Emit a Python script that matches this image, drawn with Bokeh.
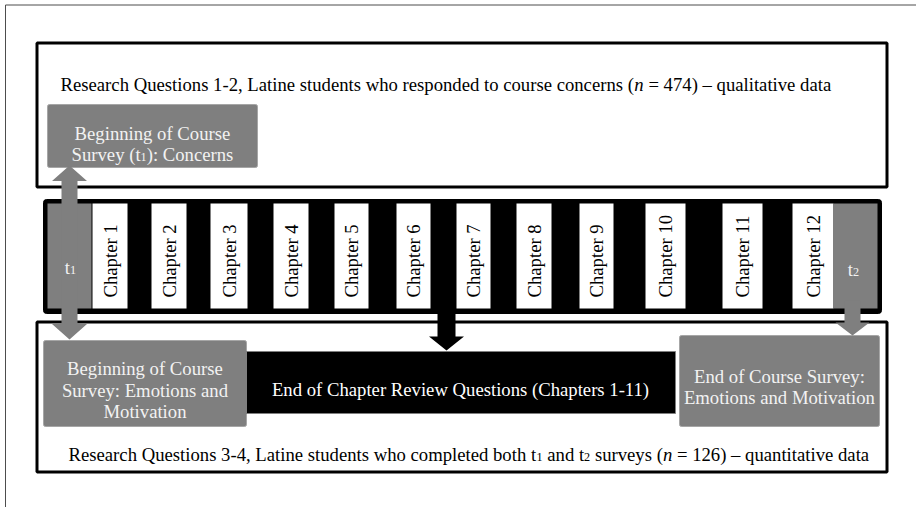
import math
from bokeh.plotting import figure
from bokeh.models import Range1d
from bokeh.core.properties import value
from bokeh.embed import file_html
from bokeh.resources import INLINE

# ---------------- content (labels) ----------------
chapter_labels = ["Chapter 1", "Chapter 2", "Chapter 3", "Chapter 4", "Chapter 5", "Chapter 6",
                  "Chapter 7", "Chapter 8", "Chapter 9", "Chapter 10", "Chapter 11", "Chapter 12"]
chapter_left = [92, 151, 210, 273, 334, 396, 456, 516, 579, 645, 722, 792]
chapter_right = [127, 186, 247, 308, 368, 430, 490, 551, 613, 685, 762, 833]

time_labels = ["1", "2"]
time_left = [47, 833]
time_right = [91, 877]
time_label_x = [70, 853]
time_label_y = [267, 269]

top_line = [("Research Questions 1-2, Latine students who responded to course concerns (", "r"),
            ("n", "i"), (" = 474) \u2013 qualitative data", "r")]
bottom_line = [("Research Questions 3-4, Latine students who completed both t", "r"), ("1", "s"),
               (" and t", "r"), ("2", "s"), (" surveys (", "r"), ("n", "i"),
               (" = 126) \u2013 quantitative data", "r")]

gray_box_left = [47, 43, 679]
gray_box_right = [257, 246, 879]
gray_box_top = [104, 340, 335]
gray_box_bottom = [167, 426, 426]
gray_box_lines = [
    [[("Beginning of Course", "r")], [("Survey (t", "r"), ("1", "s"), ("): Concerns", "r")]],
    [[("Beginning of Course", "r")], [("Survey: Emotions and", "r")], [("Motivation", "r")]],
    [[("End of Course Survey:", "r")], [("Emotions and Motivation", "r")]],
]
gray_box_baselines = [[133, 154], [368, 390, 411], [376, 397]]

review_box = dict(left=246, right=675, top=351, bottom=413)
review_text = "End of Chapter Review Questions (Chapters 1-11)"
review_baseline = 389

frame_left = [36.5, 36.5]
frame_right = [886.5, 886.5]
frame_top = [42.5, 321.5]
frame_bottom = [186.5, 471.5]

band = dict(left=43, right=881, top=199, bottom=313)

# arrows: (center x, start y, tip y, shaft width, head width, head length, double, colour)
arrows = [
    (69, 165, 339, 16, 35, 15.5, True, "#7f7f7f"),
    (852, 300, 335, 16, 34, 13, False, "#7f7f7f"),
    (446, 310, 350, 18, 35, 14, False, "#000000"),
]

# ---------------- styling ----------------
FONT = "Liberation Serif"
FS = 18.7
SUB = 12.2
SUB_DROP = 2.5
GRAY = "#7f7f7f"
LIGHT = "#f2f2f2"
NBSP = "\u00a0"

# Times / Liberation Serif advance widths (1/1000 em)
W = {' ': 250, NBSP: 250, '(': 333, ')': 333, ',': 250, '-': 333, '.': 250, ':': 278, '=': 564,
     '\u2013': 500}
for d in "0123456789":
    W[d] = 500
W.update(dict(zip("abcdefghijklmnopqrstuvwxyz",
                  [444, 500, 444, 500, 444, 333, 500, 500, 278, 278, 500, 278, 778, 500, 500, 500, 500,
                   333, 389, 278, 500, 500, 722, 500, 500, 444])))
W.update(dict(zip("ABCDEFGHIJKLMNOPQRSTUVWXYZ",
                  [722, 667, 667, 722, 611, 556, 722, 722, 333, 389, 722, 611, 889, 722, 722, 556, 722,
                   667, 556, 611, 722, 722, 944, 722, 722, 611])))


def run_width(t, kind):
    size = SUB if kind == "s" else FS
    return sum(W.get(c, 500) for c in t) * size / 1000.0


def line_width(runs):
    return sum(run_width(t, k) for t, k in runs)


def protect(t):
    # SVG trims leading / trailing blanks: keep them as no-break spaces
    n0 = len(t) - len(t.lstrip(" "))
    n1 = len(t) - len(t.rstrip(" "))
    core = t.strip(" ")
    return NBSP * n0 + core + NBSP * n1


p = figure(width=916, height=507, output_backend="svg", toolbar_location=None,
           x_range=Range1d(0, 916), y_range=Range1d(507, 0), min_border=0)
p.axis.visible = False
p.grid.visible = False
p.outline_line_color = None
p.background_fill_color = "white"
p.border_fill_color = "white"

# thin outer frame (top and left)
p.line(x=[5, 916], y=[4.5, 4.5], line_color="#4d4d4d", line_width=1)
p.line(x=[5, 5], y=[4.5, 507], line_color="#4d4d4d", line_width=1)

# two research-question frames
p.quad(left=frame_left, right=frame_right, top=frame_top, bottom=frame_bottom,
       fill_color="white", line_color="black", line_width=3)

# chapter band
p.quad(left=[band["left"]], right=[band["right"]], top=[band["top"]], bottom=[band["bottom"]],
       fill_color="black", line_color="black", line_width=1, border_radius=3)
p.quad(left=chapter_left, right=chapter_right, top=[203] * 12, bottom=[308] * 12,
       fill_color="white", line_color=None)
p.quad(left=time_left, right=time_right, top=[203] * 2, bottom=[308] * 2,
       fill_color=GRAY, line_color=None)

# survey boxes
p.quad(left=gray_box_left, right=gray_box_right, top=gray_box_top, bottom=gray_box_bottom,
       fill_color=GRAY, line_color="#a6a6a6", line_width=1, border_radius=2)
p.quad(left=[review_box["left"]], right=[review_box["right"]], top=[review_box["top"]],
       bottom=[review_box["bottom"]], fill_color="black", line_color="#7f7f7f", line_width=1)

# arrows
for cx, y0, y1, sw, hw, hl, double, col in arrows:
    xs, ys = [], []
    if double:
        xs += [cx, cx + hw / 2, cx + sw / 2]
        ys += [y0, y0 + hl, y0 + hl]
    else:
        xs += [cx + sw / 2]
        ys += [y0]
    xs += [cx + sw / 2, cx + hw / 2, cx, cx - hw / 2, cx - sw / 2]
    ys += [y1 - hl, y1 - hl, y1, y1 - hl, y1 - hl]
    if double:
        xs += [cx - sw / 2, cx - hw / 2]
        ys += [y0 + hl, y0 + hl]
    else:
        xs += [cx - sw / 2]
        ys += [y0]
    p.patch(x=xs, y=ys, fill_color=col, line_color=None)

# ---------------- text ----------------
groups = {}


def add_runs(runs, x_left, baseline, color):
    x = x_left
    for t, k in runs:
        size = SUB if k == "s" else FS
        yb = baseline + (SUB_DROP if k == "s" else 0)
        style = "italic" if k == "i" else "normal"
        key = (size, style, color)
        g = groups.setdefault(key, dict(x=[], y=[], text=[]))
        g["x"].append(x)
        g["y"].append(yb)
        g["text"].append(protect(t))
        x += run_width(t, k)


add_runs(top_line, 60, 84, "black")
add_runs(bottom_line, 68, 454, "black")
for box_i, lines in enumerate(gray_box_lines):
    cx = (gray_box_left[box_i] + gray_box_right[box_i]) / 2
    for runs, yb in zip(lines, gray_box_baselines[box_i]):
        add_runs(runs, cx - line_width(runs) / 2, yb, LIGHT)
rcx = (review_box["left"] + review_box["right"]) / 2
add_runs([(review_text, "r")], rcx - line_width([(review_text, "r")]) / 2, review_baseline, "white")
for lab, lx, ly in zip(time_labels, time_label_x, time_label_y):
    runs = [("t", "r"), (lab, "s")]
    add_runs(runs, lx - line_width(runs) / 2, ly, LIGHT)

for (size, style, color), g in groups.items():
    p.text(x=g["x"], y=g["y"], text=g["text"], text_align="left", text_baseline="alphabetic",
           text_font=value(FONT), text_font_size=f"{size}px", text_font_style=style,
           text_color=color)

# chapter labels (rotated, reading bottom to top)
chapter_cx = [(a + b) / 2 for a, b in zip(chapter_left, chapter_right)]
p.text(x=chapter_cx, y=[297] * 12, text=chapter_labels, angle=math.pi / 2,
       text_align="left", text_baseline="middle", text_font=value(FONT),
       text_font_size=f"{FS}px", text_color="black")

open("out.html", "w").write(file_html(p, INLINE))
